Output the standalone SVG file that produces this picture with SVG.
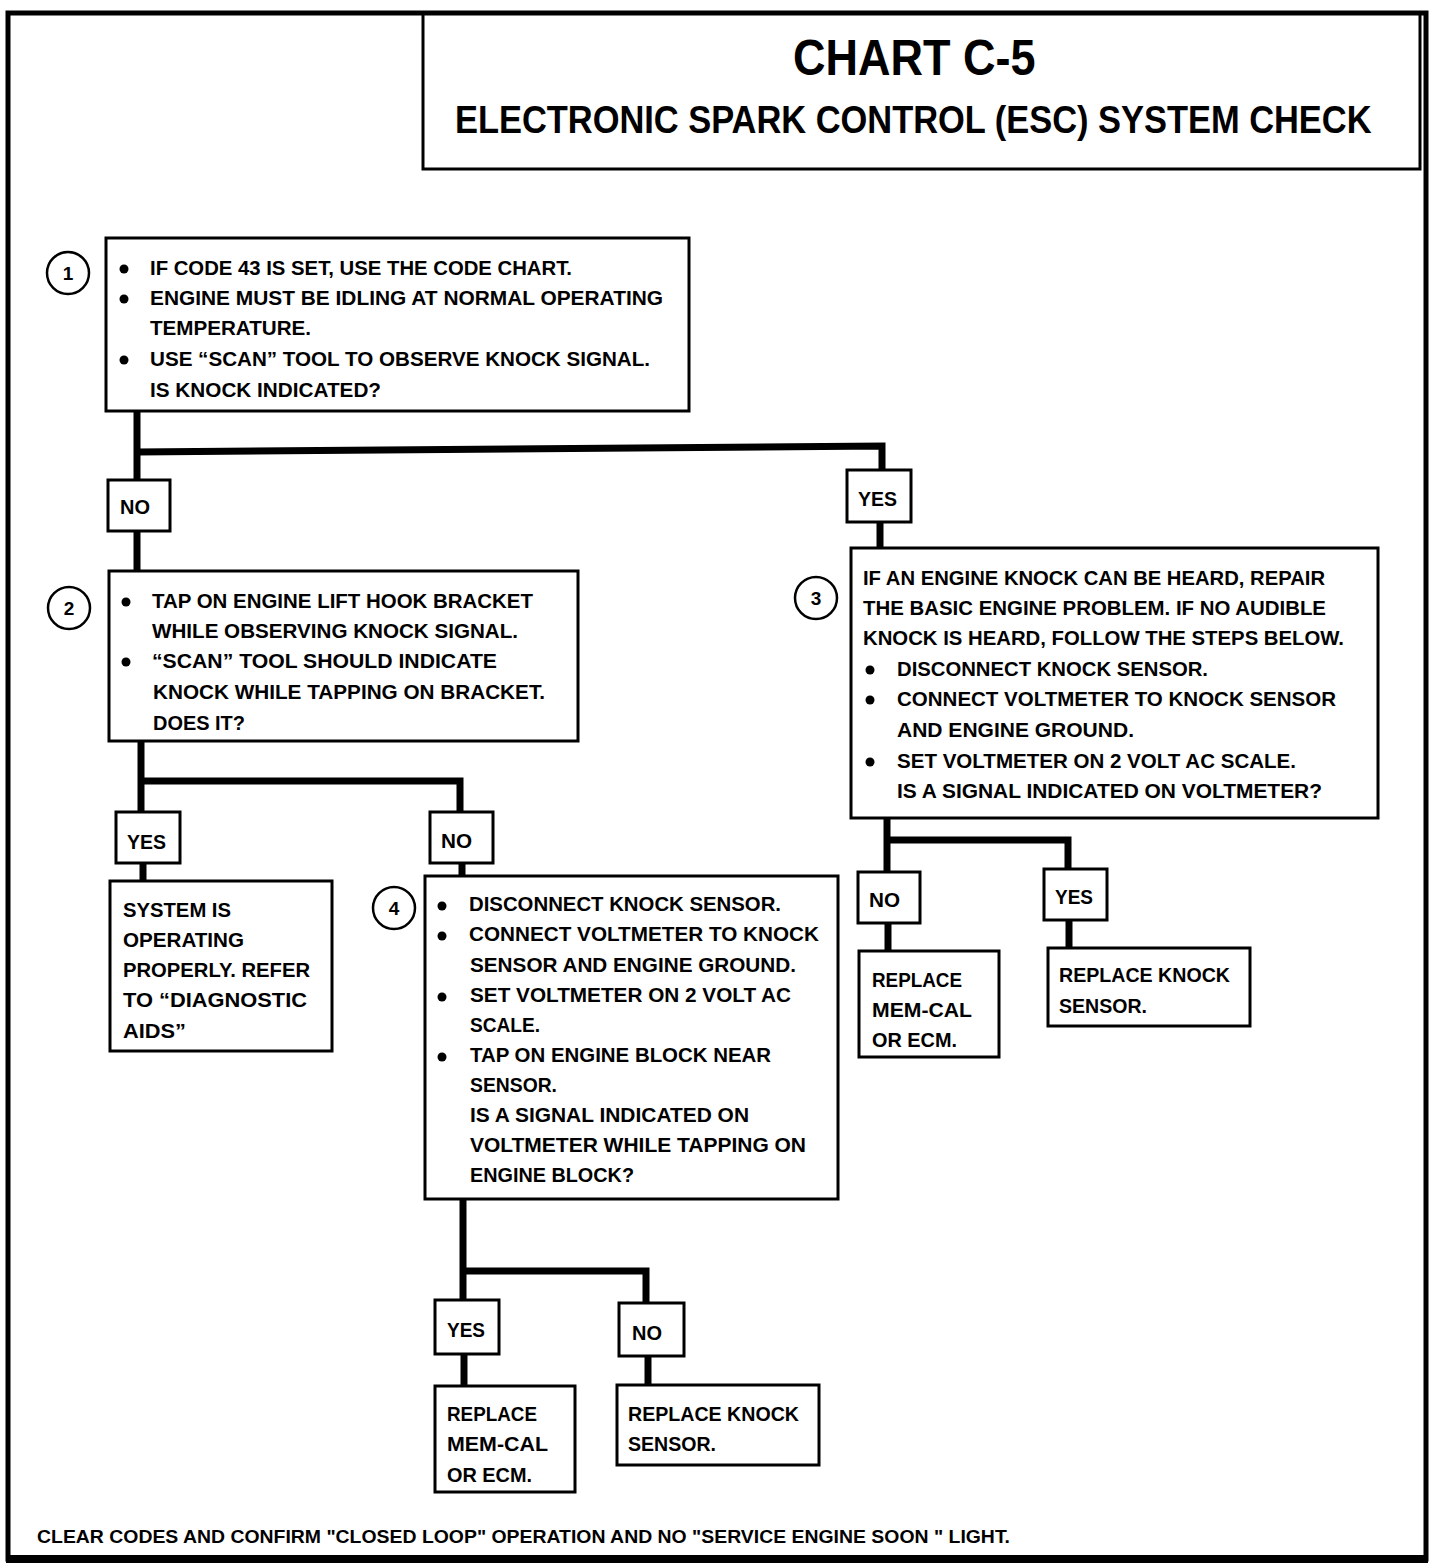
<svg xmlns="http://www.w3.org/2000/svg" width="1440" height="1566" viewBox="0 0 1440 1566">
<style>
.bx{fill:#fff;stroke:#000;stroke-width:3}
.lb{fill:#fff;stroke:#000;stroke-width:3}
.cn{fill:none;stroke:#000;stroke-width:7;stroke-linejoin:miter}
.cc{fill:#fff;stroke:#000;stroke-width:2.5}
text{font-family:"Liberation Sans","Open Sans",Arial,sans-serif;font-weight:bold;fill:#000}
.t{font-size:21px}
.n{font-size:19px;text-anchor:middle}
.bul{fill:#000}
</style>
<rect x="0" y="0" width="1440" height="1566" fill="#fff"/>
<rect x="8" y="13" width="1418" height="1546" fill="none" stroke="#000" stroke-width="5"/>
<line x1="6" y1="1559" x2="1428" y2="1559" stroke="#000" stroke-width="8"/>

<g id="title">
<rect x="423" y="13" width="997" height="156" fill="none" stroke="#000" stroke-width="3"/>
<text transform="translate(793,75) scale(0.9,1)" x="0" y="0" font-size="50">CHART C-5</text>
<text transform="translate(455,133) scale(0.883,1)" x="0" y="0" font-size="39">ELECTRONIC SPARK CONTROL (ESC) SYSTEM CHECK</text>
</g>

<g id="connectors">
<line class="cn" x1="137" y1="411" x2="137" y2="480"/>
<polyline class="cn" points="137,452 882,446 882,470"/>
<line class="cn" x1="137" y1="531" x2="137" y2="571"/>
<line class="cn" x1="880" y1="522" x2="880" y2="548"/>
<polyline class="cn" points="141,741 141,812"/>
<polyline class="cn" points="141,781 460,781 460,812"/>
<line class="cn" x1="143" y1="863" x2="143" y2="881"/>
<line class="cn" x1="462" y1="863" x2="462" y2="876"/>
<polyline class="cn" points="887,818 887,872"/>
<polyline class="cn" points="887,840 1068,840 1068,869"/>
<line class="cn" x1="888" y1="923" x2="888" y2="951"/>
<line class="cn" x1="1069" y1="920" x2="1069" y2="948"/>
<polyline class="cn" points="463,1199 463,1300"/>
<polyline class="cn" points="463,1271 646,1271 646,1303"/>
<line class="cn" x1="464" y1="1354" x2="464" y2="1386"/>
<line class="cn" x1="648" y1="1356" x2="648" y2="1385"/>
</g>

<g id="node1">
<circle class="cc" cx="68" cy="273" r="21"/>
<text class="n" x="68" y="280">1</text>
<rect class="bx" x="106" y="238" width="583" height="173"/>
<circle class="bul" cx="124" cy="269" r="4.5"/>
<circle class="bul" cx="124" cy="299" r="4.5"/>
<circle class="bul" cx="124" cy="360" r="4.5"/>
<text class="t" x="150" y="275" textLength="422" lengthAdjust="spacingAndGlyphs">IF CODE 43 IS SET, USE THE CODE CHART.</text>
<text class="t" x="150" y="305" textLength="513" lengthAdjust="spacingAndGlyphs">ENGINE MUST BE IDLING AT NORMAL OPERATING</text>
<text class="t" x="150" y="335" textLength="161" lengthAdjust="spacingAndGlyphs">TEMPERATURE.</text>
<text class="t" x="150" y="366" textLength="500" lengthAdjust="spacingAndGlyphs">USE “SCAN” TOOL TO OBSERVE KNOCK SIGNAL.</text>
<text class="t" x="150" y="397" textLength="231" lengthAdjust="spacingAndGlyphs">IS KNOCK INDICATED?</text>
</g>

<g id="lbl-no1">
<rect class="lb" x="108" y="480" width="62" height="51"/>
<text class="t" x="120" y="514" textLength="30" lengthAdjust="spacingAndGlyphs">NO</text>
</g>
<g id="lbl-yes1">
<rect class="lb" x="847" y="470" width="64" height="52"/>
<text class="t" x="858" y="506" textLength="39" lengthAdjust="spacingAndGlyphs">YES</text>
</g>

<g id="node2">
<circle class="cc" cx="69" cy="608" r="21"/>
<text class="n" x="69" y="615">2</text>
<rect class="bx" x="109" y="571" width="469" height="170"/>
<circle class="bul" cx="126" cy="602" r="4.5"/>
<circle class="bul" cx="126" cy="662" r="4.5"/>
<text class="t" x="152" y="608" textLength="381" lengthAdjust="spacingAndGlyphs">TAP ON ENGINE LIFT HOOK BRACKET</text>
<text class="t" x="152" y="638" textLength="366" lengthAdjust="spacingAndGlyphs">WHILE OBSERVING KNOCK SIGNAL.</text>
<text class="t" x="152" y="668" textLength="345" lengthAdjust="spacingAndGlyphs">“SCAN” TOOL SHOULD INDICATE</text>
<text class="t" x="153" y="699" textLength="392" lengthAdjust="spacingAndGlyphs">KNOCK WHILE TAPPING ON BRACKET.</text>
<text class="t" x="153" y="730" textLength="92" lengthAdjust="spacingAndGlyphs">DOES IT?</text>
</g>

<g id="node3">
<circle class="cc" cx="816" cy="598" r="21"/>
<text class="n" x="816" y="605">3</text>
<rect class="bx" x="851" y="548" width="527" height="270"/>
<text class="t" x="863" y="585" textLength="462" lengthAdjust="spacingAndGlyphs">IF AN ENGINE KNOCK CAN BE HEARD, REPAIR</text>
<text class="t" x="863" y="615" textLength="463" lengthAdjust="spacingAndGlyphs">THE BASIC ENGINE PROBLEM.  IF NO AUDIBLE</text>
<text class="t" x="863" y="645" textLength="481" lengthAdjust="spacingAndGlyphs">KNOCK IS HEARD, FOLLOW THE STEPS BELOW.</text>
<circle class="bul" cx="870" cy="670" r="4.5"/>
<circle class="bul" cx="870" cy="700" r="4.5"/>
<circle class="bul" cx="870" cy="762" r="4.5"/>
<text class="t" x="897" y="676" textLength="311" lengthAdjust="spacingAndGlyphs">DISCONNECT KNOCK SENSOR.</text>
<text class="t" x="897" y="706" textLength="439" lengthAdjust="spacingAndGlyphs">CONNECT VOLTMETER TO KNOCK SENSOR</text>
<text class="t" x="897" y="737" textLength="237" lengthAdjust="spacingAndGlyphs">AND ENGINE GROUND.</text>
<text class="t" x="897" y="768" textLength="399" lengthAdjust="spacingAndGlyphs">SET VOLTMETER ON 2 VOLT AC SCALE.</text>
<text class="t" x="897" y="798" textLength="425" lengthAdjust="spacingAndGlyphs">IS A SIGNAL INDICATED ON VOLTMETER?</text>
</g>

<g id="lbl-yes2">
<rect class="lb" x="116" y="812" width="64" height="51"/>
<text class="t" x="127" y="849" textLength="39" lengthAdjust="spacingAndGlyphs">YES</text>
</g>
<g id="lbl-no2">
<rect class="lb" x="430" y="812" width="63" height="51"/>
<text class="t" x="441" y="848" textLength="31" lengthAdjust="spacingAndGlyphs">NO</text>
</g>

<g id="node-system-ok">
<rect class="bx" x="110" y="881" width="222" height="170"/>
<text class="t" x="123" y="917" textLength="108" lengthAdjust="spacingAndGlyphs">SYSTEM IS</text>
<text class="t" x="123" y="947" textLength="121" lengthAdjust="spacingAndGlyphs">OPERATING</text>
<text class="t" x="123" y="977" textLength="187" lengthAdjust="spacingAndGlyphs">PROPERLY.  REFER</text>
<text class="t" x="123" y="1007" textLength="184" lengthAdjust="spacingAndGlyphs">TO  “DIAGNOSTIC</text>
<text class="t" x="123" y="1038" textLength="63" lengthAdjust="spacingAndGlyphs">AIDS”</text>
</g>

<g id="node4">
<circle class="cc" cx="394" cy="908" r="21"/>
<text class="n" x="394" y="915">4</text>
<rect class="bx" x="425" y="876" width="413" height="323"/>
<circle class="bul" cx="442" cy="906" r="4.5"/>
<circle class="bul" cx="442" cy="936" r="4.5"/>
<circle class="bul" cx="442" cy="997" r="4.5"/>
<circle class="bul" cx="442" cy="1057" r="4.5"/>
<text class="t" x="469" y="911" textLength="312" lengthAdjust="spacingAndGlyphs">DISCONNECT KNOCK SENSOR.</text>
<text class="t" x="469" y="941" textLength="350" lengthAdjust="spacingAndGlyphs">CONNECT VOLTMETER TO KNOCK</text>
<text class="t" x="470" y="972" textLength="326" lengthAdjust="spacingAndGlyphs">SENSOR AND ENGINE GROUND.</text>
<text class="t" x="470" y="1002" textLength="321" lengthAdjust="spacingAndGlyphs">SET VOLTMETER ON 2 VOLT AC</text>
<text class="t" x="470" y="1032" textLength="70" lengthAdjust="spacingAndGlyphs">SCALE.</text>
<text class="t" x="470" y="1062" textLength="301" lengthAdjust="spacingAndGlyphs">TAP ON ENGINE BLOCK NEAR</text>
<text class="t" x="470" y="1092" textLength="87" lengthAdjust="spacingAndGlyphs">SENSOR.</text>
<text class="t" x="470" y="1122" textLength="279" lengthAdjust="spacingAndGlyphs">IS A SIGNAL INDICATED ON</text>
<text class="t" x="470" y="1152" textLength="336" lengthAdjust="spacingAndGlyphs">VOLTMETER WHILE TAPPING ON</text>
<text class="t" x="470" y="1182" textLength="164" lengthAdjust="spacingAndGlyphs">ENGINE BLOCK?</text>
</g>

<g id="lbl-no3">
<rect class="lb" x="858" y="872" width="62" height="51"/>
<text class="t" x="869" y="907" textLength="31" lengthAdjust="spacingAndGlyphs">NO</text>
</g>
<g id="lbl-yes3">
<rect class="lb" x="1044" y="869" width="63" height="51"/>
<text class="t" x="1055" y="904" textLength="38" lengthAdjust="spacingAndGlyphs">YES</text>
</g>

<g id="node-replace-memcal-1">
<rect class="bx" x="859" y="951" width="140" height="106"/>
<text class="t" x="872" y="987" textLength="90" lengthAdjust="spacingAndGlyphs">REPLACE</text>
<text class="t" x="872" y="1017" textLength="100" lengthAdjust="spacingAndGlyphs">MEM-CAL</text>
<text class="t" x="872" y="1047" textLength="85" lengthAdjust="spacingAndGlyphs">OR ECM.</text>
</g>
<g id="node-replace-knock-1">
<rect class="bx" x="1048" y="948" width="202" height="78"/>
<text class="t" x="1059" y="982" textLength="171" lengthAdjust="spacingAndGlyphs">REPLACE KNOCK</text>
<text class="t" x="1059" y="1013" textLength="88" lengthAdjust="spacingAndGlyphs">SENSOR.</text>
</g>

<g id="lbl-yes4">
<rect class="lb" x="435" y="1300" width="64" height="54"/>
<text class="t" x="447" y="1337" textLength="38" lengthAdjust="spacingAndGlyphs">YES</text>
</g>
<g id="lbl-no4">
<rect class="lb" x="619" y="1303" width="65" height="53"/>
<text class="t" x="632" y="1340" textLength="30" lengthAdjust="spacingAndGlyphs">NO</text>
</g>

<g id="node-replace-memcal-2">
<rect class="bx" x="435" y="1386" width="140" height="106"/>
<text class="t" x="447" y="1421" textLength="90" lengthAdjust="spacingAndGlyphs">REPLACE</text>
<text class="t" x="447" y="1451" textLength="101" lengthAdjust="spacingAndGlyphs">MEM-CAL</text>
<text class="t" x="447" y="1482" textLength="85" lengthAdjust="spacingAndGlyphs">OR ECM.</text>
</g>
<g id="node-replace-knock-2">
<rect class="bx" x="617" y="1385" width="202" height="80"/>
<text class="t" x="628" y="1421" textLength="171" lengthAdjust="spacingAndGlyphs">REPLACE KNOCK</text>
<text class="t" x="628" y="1451" textLength="88" lengthAdjust="spacingAndGlyphs">SENSOR.</text>
</g>

<g id="footer">
<text x="37" y="1543" font-size="18" textLength="973" lengthAdjust="spacingAndGlyphs">CLEAR CODES AND CONFIRM "CLOSED LOOP" OPERATION AND NO "SERVICE ENGINE SOON " LIGHT.</text>
</g>
</svg>
